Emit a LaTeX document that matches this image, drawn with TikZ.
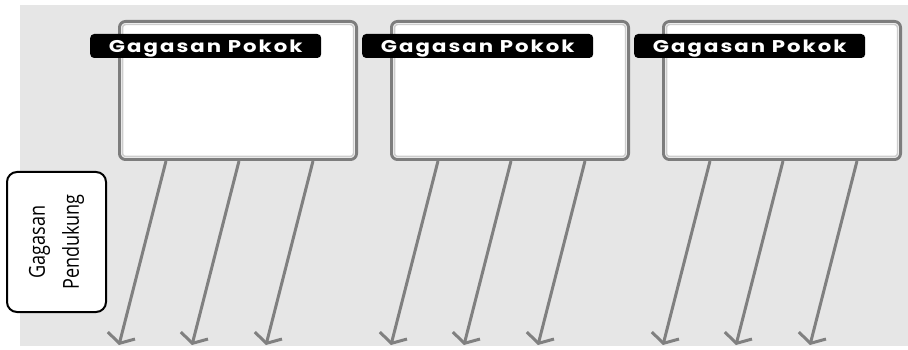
\documentclass[tikz,border=0pt]{standalone}
\usepackage{fontspec}
\usetikzlibrary{arrows.meta,calc}
\newfontfamily\pokfont[LetterSpace=12,FakeStretch=1.25]{Poppins}
\newfontfamily\pendfont[FakeStretch=0.82]{Open Sans}
\definecolor{bggray}{RGB}{230,230,230}
\definecolor{boxgray}{RGB}{125,125,125}
\definecolor{innergray}{RGB}{205,205,205}
\definecolor{arrgray}{RGB}{128,128,128}
\tikzset{
  mainbox/.style={draw=boxgray, line width=3pt, fill=white, rounded corners=6pt,
    minimum width=237pt, minimum height=138pt, anchor=north west, inner sep=0pt},
  innerline/.style={draw=innergray, line width=1.5pt, rounded corners=3pt},
  pokbox/.style={fill=black, rounded corners=4pt, minimum width=231pt, minimum height=24pt,
    inner sep=0pt, text depth=0pt, text=white, font=\pokfont\bfseries\fontsize{17}{20}\selectfont, anchor=west},
  pendbox/.style={draw=black, line width=2pt, fill=white, rounded corners=10pt,
    minimum width=140pt, minimum height=99pt, inner sep=0pt, rotate=90, align=center,
    font=\pendfont\fontsize{22}{34}\selectfont},
  arr/.style={draw=arrgray, line width=3pt, -{Straight Barb[length=8pt,width=28pt]}}
}
\begin{document}
\begin{tikzpicture}[x=1pt,y=-1pt]
\useasboundingbox (0,0) rectangle (908,350);
\fill[bggray] (20,5) rectangle (908,346);
\foreach \i/\x in {1/118,2/390,3/662}{
  \node[mainbox] (b\i) at (\x,20) {};
  \draw[innerline] ($(b\i.north west)+(4.5,4.5)$) rectangle ($(b\i.south east)+(-4.5,-4.5)$);
  \node[pokbox] (l\i) at ($(b\i.north west)+(-28,26)$) {Gagasan Pokok};
  \foreach \o [count=\j] in {48,121,195}{
    \coordinate (s\i\j) at ($(b\i.south west)+(\o,0)$);
    \coordinate (e\i\j) at ($(s\i\j)+(-47,184)$);
    \draw[arr] (s\i\j) -- (e\i\j);
  }
}
\node[pendbox] (pend) at (56.5,242) {Gagasan\\Pendukung};
\end{tikzpicture}
\end{document}
